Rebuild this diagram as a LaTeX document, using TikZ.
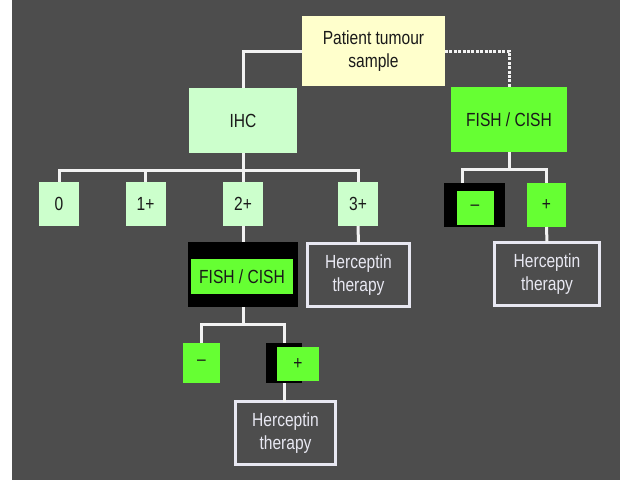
\documentclass[tikz,border=0pt]{standalone}
\usepackage{fontspec}
\setmainfont[FakeStretch=0.82]{Liberation Sans}
\definecolor{bg}{HTML}{4D4D4D}
\definecolor{cream}{HTML}{FFFFCC}
\definecolor{pale}{HTML}{CCFFCC}
\definecolor{lime}{HTML}{66FF33}
\definecolor{wline}{HTML}{F2F2F2}
\definecolor{hbord}{HTML}{E8E8F2}
\definecolor{inktext}{HTML}{1A1A1A}
\tikzset{
  box/.style={inner sep=0pt, outer sep=0pt, align=center, font=\fontsize{19}{23}\selectfont, text=inktext},
  wbox/.style={box, minimum width=#1},
  blackbg/.style={fill=black, inner sep=0pt, outer sep=0pt},
  herc/.style={box, draw=hbord, line width=3pt, fill=bg, text=hbord, minimum height=63pt},
  conn/.style={draw=wline, line width=3pt},
  dotconn/.style={conn, dash pattern=on 3pt off 1.4pt},
}
\begin{document}
\begin{tikzpicture}[x=1pt,y=-1pt]
\useasboundingbox (0,0) rectangle (625,483);
\fill[white] (0,0) rectangle (625,483);
\fill[bg] (12,0) rectangle (620,480);

% top
\node[box, fill=cream, minimum width=143pt, minimum height=70pt] (patient) at (373.5,51) {Patient tumour\\sample};
\node[box, fill=pale, minimum width=108pt, minimum height=65pt] (ihc) at (243,120.5) {IHC};
\node[box, fill=lime, minimum width=116pt, minimum height=65pt] (fishR) at (509,119.5) {FISH / CISH};

% IHC scores
\node[box, fill=pale, minimum width=40pt, minimum height=44pt] (b0) at (59,204) {0};
\node[box, fill=pale, minimum width=40pt, minimum height=44pt] (b1) at (145.5,204) {1+};
\node[box, fill=pale, minimum width=40pt, minimum height=44pt] (b2) at (243,204) {2+};
\node[box, fill=pale, minimum width=40pt, minimum height=44pt] (b3) at (358,204) {3+};

% right branch results
\node[blackbg, minimum width=61pt, minimum height=44pt] (negRbg) at (474,205) {};
\node[box, fill=lime, minimum width=37pt, minimum height=34pt] (negR) at (475,208) {–};
\node[box, fill=lime, minimum width=39pt, minimum height=44pt] (posR) at (546.5,205) {+};
\node[herc, minimum width=105pt] (herR) at (547,274) {Herceptin\\therapy};

% 3+ therapy
\node[herc, minimum width=102pt] (herM) at (358.5,275) {Herceptin\\therapy};

% 2+ FISH/CISH
\node[blackbg, minimum width=110pt, minimum height=65pt] (fishMbg) at (243,274.5) {};
\node[box, fill=lime, minimum width=102pt, minimum height=35pt] (fishM) at (242,276.5) {FISH / CISH};

% 2+ results
\node[box, fill=lime, minimum width=37pt, minimum height=40pt] (negM) at (201.5,363) {–};
\node[blackbg, minimum width=36pt, minimum height=40pt] (posMbg) at (284,363) {};
\node[box, fill=lime, minimum width=42pt, minimum height=34pt] (posM) at (298,364) {+};
\node[herc, minimum width=100pt] (herB) at (285.5,433) {Herceptin\\therapy};

% connectors
\coordinate (barL) at (0,170);
\coordinate (barR) at (0,169);
\coordinate (barM) at (0,324);
\coordinate (negRdrop) at (462,183);

\draw[conn] (patient.west) -| (ihc.north);
\draw[dotconn] (patient.east) -| (fishR.north);

\draw[conn] (ihc.south) -- (ihc.south |- barL);
\draw[conn] (b0.north) |- (b3.north |- barL) -- (b3.north);
\draw[conn] (b1.north) -- (b1.north |- barL);
\draw[conn] (b2.north) -- (b2.north |- barL);
\draw[conn] (b2.south) -- (fishMbg.north);
\draw[conn] (b3.south) -- (herM.north);

\draw[conn] (fishR.south) -- (fishR.south |- barR);
\draw[conn] (negRdrop) |- (posR.north |- barR) -- (posR.north);
\draw[conn] (posR.south) -- (herR.north);

\draw[conn] (fishMbg.south) -- (fishMbg.south |- barM);
\draw[conn] (negM.north) |- (posMbg.north |- barM) -- (posMbg.north);
\draw[conn] (posMbg.south) -- (posMbg.south |- herB.north);
\end{tikzpicture}
\end{document}
